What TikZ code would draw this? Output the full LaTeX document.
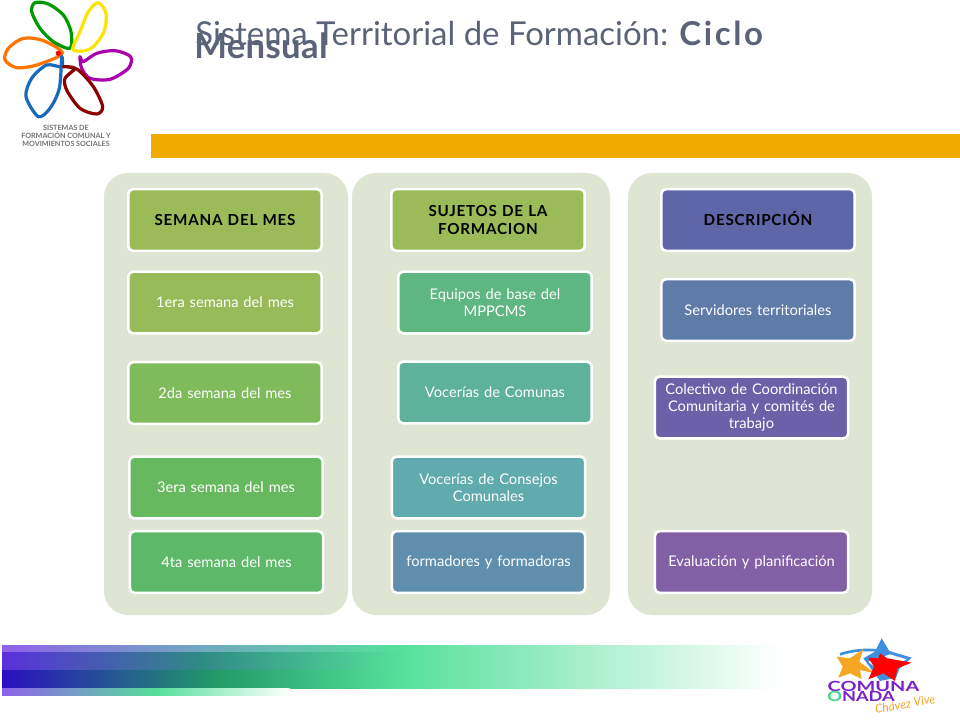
\documentclass[tikz,border=0pt]{standalone}
\usepackage{fontspec}
\setmainfont{Lato}
\usetikzlibrary{shapes.geometric}
\definecolor{panelc}{HTML}{DFE5D3}
\definecolor{titlec}{HTML}{5A6378}
\definecolor{barc}{HTML}{EFAB00}
\definecolor{gpurple}{HTML}{8F62EA}
\definecolor{gindigo}{HTML}{5A30DC}
\definecolor{gdeep}{HTML}{2A0FC0}
\definecolor{gtop}{HTML}{70A8C0}
\definecolor{gmid}{HTML}{2F8A85}
\definecolor{gteal}{HTML}{219A68}
\definecolor{gmint}{HTML}{55E09A}
\definecolor{cpurple}{HTML}{7A22C8}
\definecolor{cgreen}{HTML}{3FD68A}
\definecolor{cblue}{HTML}{3F8FE0}
\definecolor{corange}{HTML}{F5A623}
\tikzset{
  x=0.75pt,y=-0.75pt,
  panel/.style={fill=panelc,rounded corners=18pt},
  cell/.style={draw=white,line width=1.9pt,rounded corners=3.5pt,inner sep=0pt,minimum height=46.2pt},
  celltext/.style={cell,text=white,font=\fontsize{11}{13}\selectfont,align=center,text width=145pt},
  headtext/.style={cell,text=black,font=\bfseries\fontsize{11.4}{12.8}\selectfont\addfontfeature{LetterSpace=5},align=center,text width=145pt},
  petal/.style={line width=2.4pt,line cap=round,line join=round},
  logotext/.style={text=black!55,font=\bfseries\fontsize{5.4}{6}\selectfont,align=center},
}
\newcommand{\cellbox}[7]{% name x1 y1 x2 y2 color text
  \definecolor{cellc}{HTML}{#6}
  \node[celltext,fill=cellc] (#1) at ({(#2+#4)/2},{(#3+#5)/2}) {#7};
}
\newcommand{\headbox}[7]{%
  \definecolor{cellc}{HTML}{#6}
  \node[headtext,fill=cellc] (#1) at ({(#2+#4)/2},{(#3+#5)/2}) {#7};
}
\begin{document}
\begin{tikzpicture}
\useasboundingbox (0,0) rectangle (960,720);
\fill[white] (0,0) rectangle (960,720);
% panels
\path[panel] (104,173) rectangle (348,615);
\path[panel] (352,173) rectangle (610,615);
\path[panel] (628,173) rectangle (872,615);
% bar
\fill[barc] (151,134) rectangle (960,158);
% column 1
\headbox{h1}{127}{188}{323}{252}{9BBB59}{SEMANA DEL MES}
\cellbox{a1}{127}{271}{323}{334}{98BB59}{1era semana del mes}
\cellbox{a2}{127}{361}{323}{425}{7FBA5B}{2da semana del mes}
\cellbox{a3}{128}{456}{324}{519}{66B95E}{3era semana del mes}
\cellbox{a4}{129}{530}{324}{594}{5DB86A}{4ta semana del mes}
% column 2
\headbox{h2}{390}{188}{586}{252}{9BBB59}{SUJETOS DE LA\\FORMACION}
\cellbox{b1}{397}{271}{593}{334}{5EB680}{Equipos de base del\\MPPCMS}
\cellbox{b2}{397}{361}{593}{424}{5EB29B}{Vocerías de Comunas}
\cellbox{b3}{391}{456}{586}{519}{5FABAD}{Vocerías de Consejos\\Comunales}
\cellbox{b4}{391}{530}{586}{594}{5F8FAD}{formadores y formadoras}
% column 3
\headbox{h3}{660}{188}{856}{252}{5F66A8}{\smash{DESCRIPCIÓN}\vphantom{A}}
\cellbox{c1}{660}{278}{856}{342}{5F7BA8}{Servidores territoriales}
\cellbox{c2}{654}{376}{849}{439}{6C60A8}{Colectivo de Coordinación\\Comunitaria y comités de\\trabajo}
\cellbox{c3}{654}{530}{849}{594}{835FA6}{Evaluación y planificación}
% title
\node[anchor=base west,text=titlec,font=\fontsize{24.7}{27}\selectfont,inner sep=0pt] (t1) at (195,46) {Sistema Territorial de Formación: {\bfseries\addfontfeature{LetterSpace=8}Ciclo}};
\node[anchor=base west,text=titlec,font=\bfseries\fontsize{26}{27}\selectfont\addfontfeature{LetterSpace=1},inner sep=0pt] (t2) at (194,59) {Mensual};
% bottom gradient
\fill[left color=gpurple,right color=gtop] (2,645) rectangle (200.5,652.5);
\fill[left color=gtop,right color=gmint] (200,645) rectangle (400.5,652.5);
\fill[left color=gmint,right color=white] (400,645) rectangle (780,652.5);
\fill[left color=gindigo,right color=gmid] (2,652.5) rectangle (200.5,670);
\fill[left color=gmid,right color=gmint] (200,652.5) rectangle (400.5,670);
\fill[left color=gmint,right color=white] (400,652.5) rectangle (780,670);
\fill[left color=gdeep,right color=gteal] (2,670) rectangle (215.5,688);
\fill[left color=gteal,right color=gmint] (215,670) rectangle (400.5,688);
\fill[left color=gmint,right color=white] (400,670) rectangle (780,688);
\fill[left color=gpurple,right color=gmint] (2,688) rectangle (157.5,695);
\fill[left color=gmint,right color=white] (157,688) rectangle (290,695);
% SFC logo (coordinates in thirds of a pixel)
\begin{scope}[x=0.25pt,y=-0.25pt]
\draw[petal,color=orange!90!red] plot[smooth cycle,tension=0.5] coordinates {(187,160)(130,122)(70,115)(25,145)(15,180)(50,203)(110,195)};
\draw[petal,color=green!60!black] plot[smooth cycle,tension=0.5] coordinates {(210,145)(213,95)(190,45)(145,12)(105,8)(95,35)(120,85)(160,125)};
\draw[petal,color=yellow!85!orange] plot[smooth cycle,tension=0.5] coordinates {(218,147)(240,95)(265,35)(295,8)(318,40)(312,95)(280,140)(250,153)};
\draw[petal,color=violet!65!magenta] plot[smooth cycle,tension=0.5] coordinates {(240,170)(250,185)(290,160)(345,152)(392,170)(385,205)(330,238)(270,235)(245,205)};
\draw[petal,color=cyan!45!blue] plot[smooth cycle,tension=0.5] coordinates {(185,170)(185,200)(140,195)(95,235)(78,290)(115,350)(150,325)(178,265)};
\draw[petal,color=red!55!black] plot[smooth cycle,tension=0.5] coordinates {(190,200)(232,208)(280,260)(308,320)(290,342)(240,325)(200,270)(195,235)(225,205)};
\fill[red] (175,160) circle (8);
\end{scope}
\node[logotext,anchor=north,inner sep=0pt] (lg) at (66,125) {SISTEMAS DE\\FORMACIÓN COMUNAL Y\\MOVIMIENTOS SOCIALES};
% Comuna logo (coordinates in thirds of a pixel, offset to its corner)
\begin{scope}[shift={(800,625)},x=0.25pt,y=-0.25pt]
\fill[cblue] (245,40) -- (268,78) -- (335,98) -- (298,132) -- (288,158) -- (240,168) -- (190,100) -- (225,80) -- cycle;
\draw[cblue,line width=2pt] (120,88) .. controls (150,78) and (190,72) .. (230,76);
\fill[white] (205,110) -- (270,88) -- (320,103) -- (280,125) -- (240,140) -- cycle;
\fill[corange] (110,95) -- (150,100) -- (190,72) -- (178,110) -- (225,145) -- (180,135) -- (185,162) -- (150,145) -- (115,158) -- (128,125) -- cycle;
\fill[red] (205,98) -- (235,100) -- (240,85) -- (262,100) -- (335,113) -- (292,130) -- (285,168) -- (250,145) -- (205,163) -- (222,125) -- cycle;
\end{scope}
\node[anchor=center,text=cpurple,font=\bfseries\fontsize{10.5}{12}\selectfont,inner sep=0pt,xscale=1.42] (c1t) at (873.5,686.5) {COMUNA};
\node[anchor=west,font=\bfseries\fontsize{10.5}{12}\selectfont,inner sep=0pt,xscale=1.3] (c2t) at (827,696.5) {\textcolor{cgreen}{O}\textcolor{cpurple}{NADA}};
\node[anchor=center,text=corange,font=\itshape\fontsize{9}{10}\selectfont,inner sep=0pt,rotate=10] (c3t) at (905,704) {Chávez Vive};
\end{tikzpicture}
\end{document}
